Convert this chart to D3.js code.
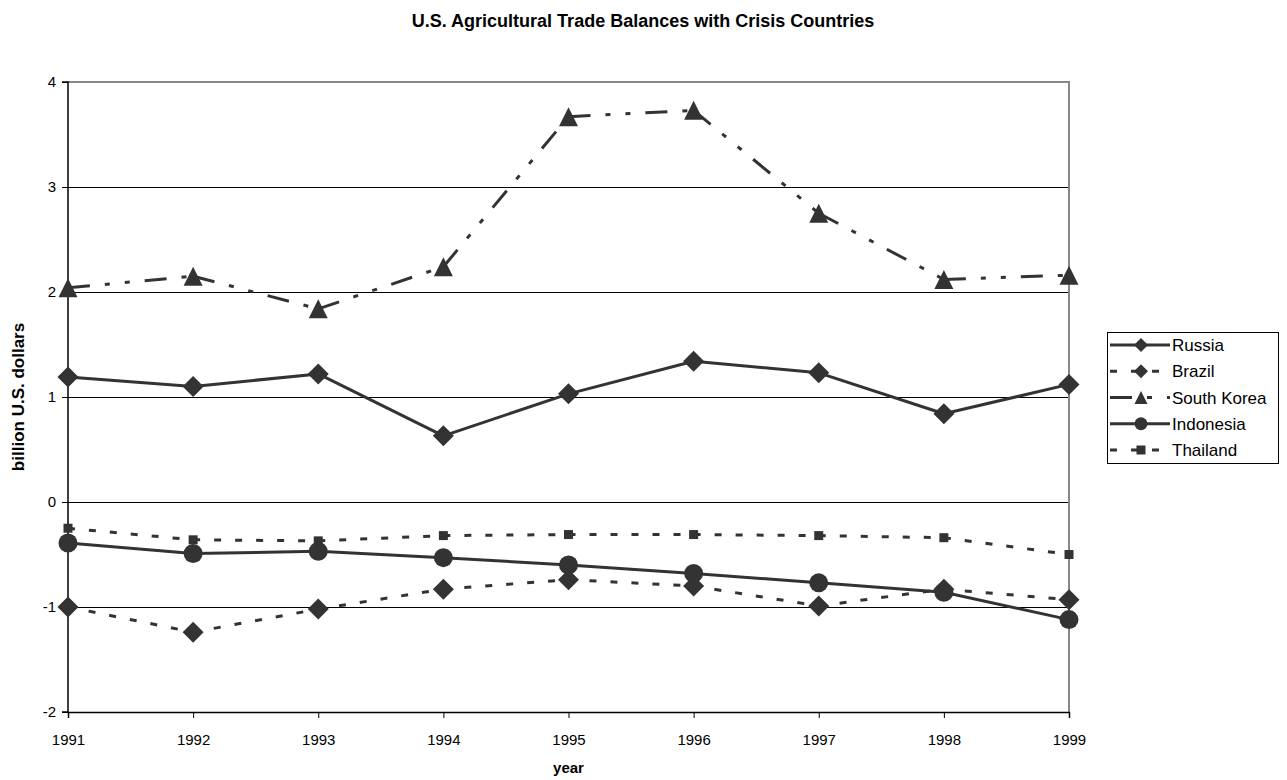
<!DOCTYPE html>
<html>
<head>
<meta charset="utf-8">
<script src="https://cdn.jsdelivr.net/npm/d3@7"></script>
<style>
  html, body { margin: 0; padding: 0; background: #fff; }
  svg { display: block; font-family: "Liberation Sans", Arial, sans-serif; }
</style>
</head>
<body>
<svg id="chart" width="1287" height="780"></svg>
<script>
// ---- data ----
const years = [1991, 1992, 1993, 1994, 1995, 1996, 1997, 1998, 1999];
const russia     = [1.19, 1.10, 1.22, 0.63, 1.03, 1.34, 1.23, 0.84, 1.12];
const brazil     = [-1.00, -1.24, -1.02, -0.83, -0.74, -0.80, -0.99, -0.83, -0.93];
const southKorea = [2.04, 2.15, 1.84, 2.24, 3.67, 3.73, 2.75, 2.12, 2.16];
const indonesia  = [-0.39, -0.49, -0.47, -0.53, -0.60, -0.68, -0.77, -0.86, -1.12];
const thailand   = [-0.25, -0.36, -0.37, -0.32, -0.31, -0.31, -0.32, -0.34, -0.50];
const yTicks = [-2, -1, 0, 1, 2, 3, 4];
const seriesNames = ["Russia", "Brazil", "South Korea", "Indonesia", "Thailand"];

(function () {
const ink = "#333333";

// custom marker shapes (size = nominal width in px)
const diamond = { draw(ctx, s) { const h = s / 2; ctx.moveTo(0, -h); ctx.lineTo(h, 0); ctx.lineTo(0, h); ctx.lineTo(-h, 0); ctx.closePath(); } };
const triangle = { draw(ctx, s) { const h = s / 2; ctx.moveTo(0, -h); ctx.lineTo(h, h); ctx.lineTo(-h, h); ctx.closePath(); } };
const square = { draw(ctx, s) { const h = s / 2; ctx.rect(-h, -h, s, s); } };
const circle = { draw(ctx, s) { const r = s / 2; ctx.moveTo(r, 0); ctx.arc(0, 0, r, 0, 2 * Math.PI); } };

const series = [
  { name: seriesNames[0], values: russia,     dash: null,              shape: diamond,  size: 21, lsize: 14 },
  { name: seriesNames[1], values: brazil,     dash: "7,14",            shape: diamond,  size: 21, lsize: 14 },
  { name: seriesNames[2], values: southKorea, dash: "22,15,5,15,5,15", shape: triangle, size: 19, lsize: 13 },
  { name: seriesNames[3], values: indonesia,  dash: null,              shape: circle,   size: 19, lsize: 13 },
  { name: seriesNames[4], values: thailand,   dash: "7,14",            shape: square,   size: 9,  lsize: 9 }
];

const svg = d3.select("#chart");
const pl = 68, pr = 1069, pt = 82, pb = 712;

const x = d3.scaleLinear().domain([1991, 1999]).range([pl, pr]);
const y = d3.scaleLinear().domain([-2, 4]).range([pb, pt]);

// title
svg.append("text")
  .attr("x", 643).attr("y", 27)
  .attr("text-anchor", "middle")
  .attr("font-size", 18).attr("font-weight", "bold")
  .text("U.S. Agricultural Trade Balances with Crisis Countries");

// gridlines
svg.append("g").selectAll("line")
  .data(yTicks.filter(t => t > -2 && t < 4))
  .join("line")
  .attr("x1", pl).attr("x2", pr)
  .attr("y1", d => y(d)).attr("y2", d => y(d))
  .attr("stroke", "#000").attr("stroke-width", 1)
  .attr("shape-rendering", "crispEdges");

// plot border top & right (gray)
svg.append("path")
  .attr("d", `M${pl},${y(4)}H${pr}V${pb}`)
  .attr("fill", "none").attr("stroke", "#888").attr("stroke-width", 1.5)
  .attr("shape-rendering", "crispEdges");

// axes
const fmt = d => String(d);
const yAxis = d3.axisLeft(y).tickValues(yTicks).tickSize(6).tickPadding(6).tickFormat(fmt);
const gy = svg.append("g").attr("transform", `translate(${pl},0)`).call(yAxis);
const xAxis = d3.axisBottom(x).tickValues(years).tickSize(6).tickPadding(16).tickFormat(fmt);
const gx = svg.append("g").attr("transform", `translate(0,${pb})`).call(xAxis);
[gx, gy].forEach(g => {
  g.select(".domain").attr("stroke", "#000").attr("stroke-width", 1.5);
  g.selectAll(".tick line").attr("stroke", "#000");
  g.selectAll(".tick text").attr("font-size", 15).attr("fill", "#000")
    .attr("font-family", "'Liberation Sans', Arial, sans-serif");
});
gy.select(".domain").attr("d", `M-6,${pb}H0V${pt}H-6`);

// axis titles
svg.append("text")
  .attr("x", (pl + pr) / 2).attr("y", 773)
  .attr("text-anchor", "middle").attr("font-size", 15).attr("font-weight", "bold")
  .text("year");
svg.append("text")
  .attr("transform", `translate(24,${(pt + pb) / 2}) rotate(-90)`)
  .attr("text-anchor", "middle").attr("font-size", 17).attr("font-weight", "bold")
  .text("billion U.S. dollars");

// series
const line = d3.line().x(d => x(d[0])).y(d => y(d[1]));
series.forEach(s => {
  const g = svg.append("g");
  const pts = years.map((yr, i) => [yr, s.values[i]]);
  const segs = d3.pairs(pts);
  g.selectAll("path.seg").data(segs).join("path")
    .attr("class", "seg")
    .attr("d", d => line(d))
    .attr("fill", "none").attr("stroke", ink).attr("stroke-width", 3)
    .attr("stroke-dasharray", s.dash);
  g.selectAll("path.mark").data(pts).join("path")
    .attr("class", "mark")
    .attr("transform", d => `translate(${x(d[0])},${y(d[1])})`)
    .attr("d", d3.symbol().type(s.shape).size(s.size))
    .attr("fill", ink);
});

// legend
const lg = svg.append("g");
lg.append("rect").attr("x", 1107).attr("y", 332).attr("width", 171).attr("height", 131)
  .attr("fill", "#fff").attr("stroke", "#000").attr("stroke-width", 1)
  .attr("shape-rendering", "crispEdges");
const ly = d3.scalePoint().domain(seriesNames).range([345, 450]);
series.forEach(s => {
  const yy = ly(s.name);
  lg.append("line").attr("x1", 1110).attr("x2", 1170).attr("y1", yy).attr("y2", yy)
    .attr("stroke", ink).attr("stroke-width", 3).attr("stroke-dasharray", s.dash);
  lg.append("path").attr("transform", `translate(1141,${yy})`)
    .attr("d", d3.symbol().type(s.shape).size(s.lsize)).attr("fill", ink);
  lg.append("text").attr("x", 1172).attr("y", yy + 6)
    .attr("font-size", 17).attr("fill", "#000").text(s.name);
});
})();
</script>
</body>
</html>
